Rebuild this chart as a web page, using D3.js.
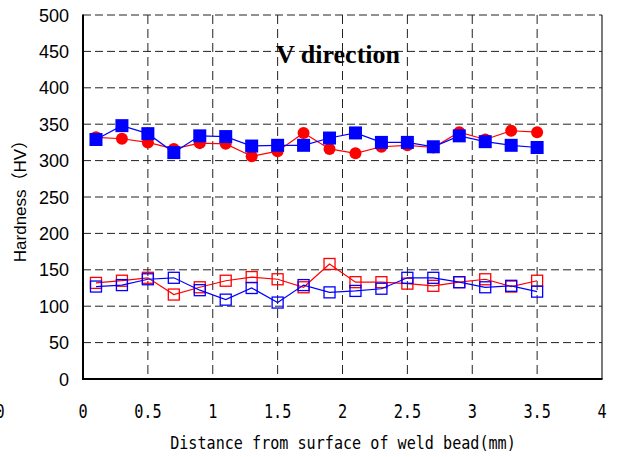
<!DOCTYPE html>
<html>
<head>
<meta charset="utf-8">
<script src="https://cdn.jsdelivr.net/npm/d3@7"></script>
<style>
  body { margin: 0; background: #fff; }
  svg { display: block; }
  .ylab { font-family: "Liberation Sans", Arial, sans-serif; font-size: 18px; }
  .xlab { font-family: "DejaVu Sans Mono", monospace; font-size: 19px; }
</style>
</head>
<body>
<svg id="chart" width="617" height="457"></svg>
<script>
// positions along the bead (mm)
var distance = [0.1, 0.3, 0.5, 0.7, 0.9, 1.1, 1.3, 1.5, 1.7, 1.9, 2.1, 2.3, 2.5, 2.7, 2.9, 3.1, 3.3, 3.5];

// upper pair
var redCircle  = [332, 330, 325, 316, 324, 323, 306, 313, 338, 316, 310, 319, 321, 318, 339, 329, 341, 339];
var blueSquare = [329, 348, 337, 311, 334, 333, 320, 321, 321, 331, 338, 325, 325, 319, 334, 326, 321, 318];
// lower pair (open squares)
var redOpen  = [132, 135, 139, 116, 126, 135, 140, 137, 126, 158, 133, 133, 131, 128, 133, 137, 127, 135];
var blueOpen = [127, 129, 137, 139, 122, 109, 125, 105, 129, 119, 121, 124, 139, 139, 133, 126, 128, 120];

var xTicks = [0, 0.5, 1, 1.5, 2, 2.5, 3, 3.5, 4];
var yTicks = [0, 50, 100, 150, 200, 250, 300, 350, 400, 450, 500];

var svg = d3.select("#chart");
var pLeft = 83, pRight = 602, pTop = 15, pBottom = 379;

var x = d3.scaleLinear().domain([0, 4]).range([pLeft, pRight]);
var y = d3.scaleLinear().domain([0, 500]).range([pBottom, pTop]);

// grid
svg.append("g").selectAll("line")
    .data(yTicks.filter(d => d > 0))
    .enter().append("line")
    .attr("x1", pLeft).attr("x2", pRight)
    .attr("y1", d => y(d)).attr("y2", d => y(d))
    .attr("stroke", "#222").attr("stroke-width", 1)
    .attr("stroke-dasharray", "8,4");
svg.append("g").selectAll("line")
    .data(xTicks.filter(d => d > 0 && d < 4))
    .enter().append("line")
    .attr("y1", pTop).attr("y2", pBottom)
    .attr("x1", d => x(d)).attr("x2", d => x(d))
    .attr("stroke", "#222").attr("stroke-width", 1)
    .attr("stroke-dasharray", "9,5");

// frame
svg.append("line").attr("x1", pRight).attr("x2", pRight).attr("y1", pTop).attr("y2", pBottom)
    .attr("stroke", "#222").attr("stroke-width", 1.2);
svg.append("line").attr("x1", pLeft).attr("x2", pLeft).attr("y1", pTop - 0.5).attr("y2", pBottom + 1)
    .attr("stroke", "#000").attr("stroke-width", 2);
svg.append("line").attr("x1", pLeft).attr("x2", pRight + 0.5).attr("y1", pBottom).attr("y2", pBottom)
    .attr("stroke", "#000").attr("stroke-width", 2);

// tick labels
svg.append("g").selectAll("text")
    .data(yTicks).enter().append("text")
    .attr("class", "ylab")
    .attr("x", 69).attr("y", d => y(d) + 6.5)
    .attr("text-anchor", "end")
    .text(d => d);

// the leftmost "0" is clipped by the page edge, as in the original
svg.append("g").selectAll("text")
    .data([-0.64].concat(xTicks)).enter().append("text")
    .attr("class", "xlab")
    .attr("text-anchor", "middle")
    .attr("transform", d => "translate(" + x(d) + ",418) scale(0.8,1)")
    .text(d => d < 0 ? "0" : d);

svg.append("text")
    .attr("class", "xlab")
    .attr("text-anchor", "middle")
    .attr("transform", "translate(343,449) scale(0.84,1)")
    .attr("style", "font-size:18px")
    .text("Distance from surface of weld bead(mm)");

svg.append("text")
    .attr("transform", "translate(26,197) rotate(-90)")
    .attr("text-anchor", "middle")
    .attr("style", "font-family:'Liberation Sans','Noto Sans CJK JP',sans-serif;font-size:17px")
    .text("Hardness\uFF08HV\uFF09");

svg.append("text")
    .attr("x", 338).attr("y", 63)
    .attr("text-anchor", "middle")
    .attr("style", "font-family:'Liberation Serif','Times New Roman',serif;font-size:26px;font-weight:bold")
    .text("V direction");

var line = d3.line().x(d => x(d[0])).y(d => y(d[1]));
function series(vals, color) {
    var pts = distance.map((d, i) => [d, vals[i]]);
    svg.append("path").datum(pts)
        .attr("d", line).attr("fill", "none")
        .attr("stroke", color).attr("stroke-width", 1.2);
    return pts;
}

// lower series
[[redOpen, "#ff0000"], [blueOpen, "#0000ff"]].forEach(function(s) {
    var pts = series(s[0], s[1]);
    svg.append("g").selectAll("rect").data(pts).enter().append("rect")
        .attr("x", d => x(d[0]) - 5.5).attr("y", d => y(d[1]) - 5.5)
        .attr("width", 11).attr("height", 11)
        .attr("fill", "none").attr("stroke", s[1]).attr("stroke-width", 1.3);
});

// upper series
var rc = series(redCircle, "#ff0000");
svg.append("g").selectAll("circle").data(rc).enter().append("circle")
    .attr("cx", d => x(d[0])).attr("cy", d => y(d[1])).attr("r", 6)
    .attr("fill", "#ff0000");
var bs = series(blueSquare, "#0000ff");
svg.append("g").selectAll("rect").data(bs).enter().append("rect")
    .attr("x", d => x(d[0]) - 6.5).attr("y", d => y(d[1]) - 6.5)
    .attr("width", 13).attr("height", 13)
    .attr("fill", "#0000ff");
</script>
</body>
</html>
